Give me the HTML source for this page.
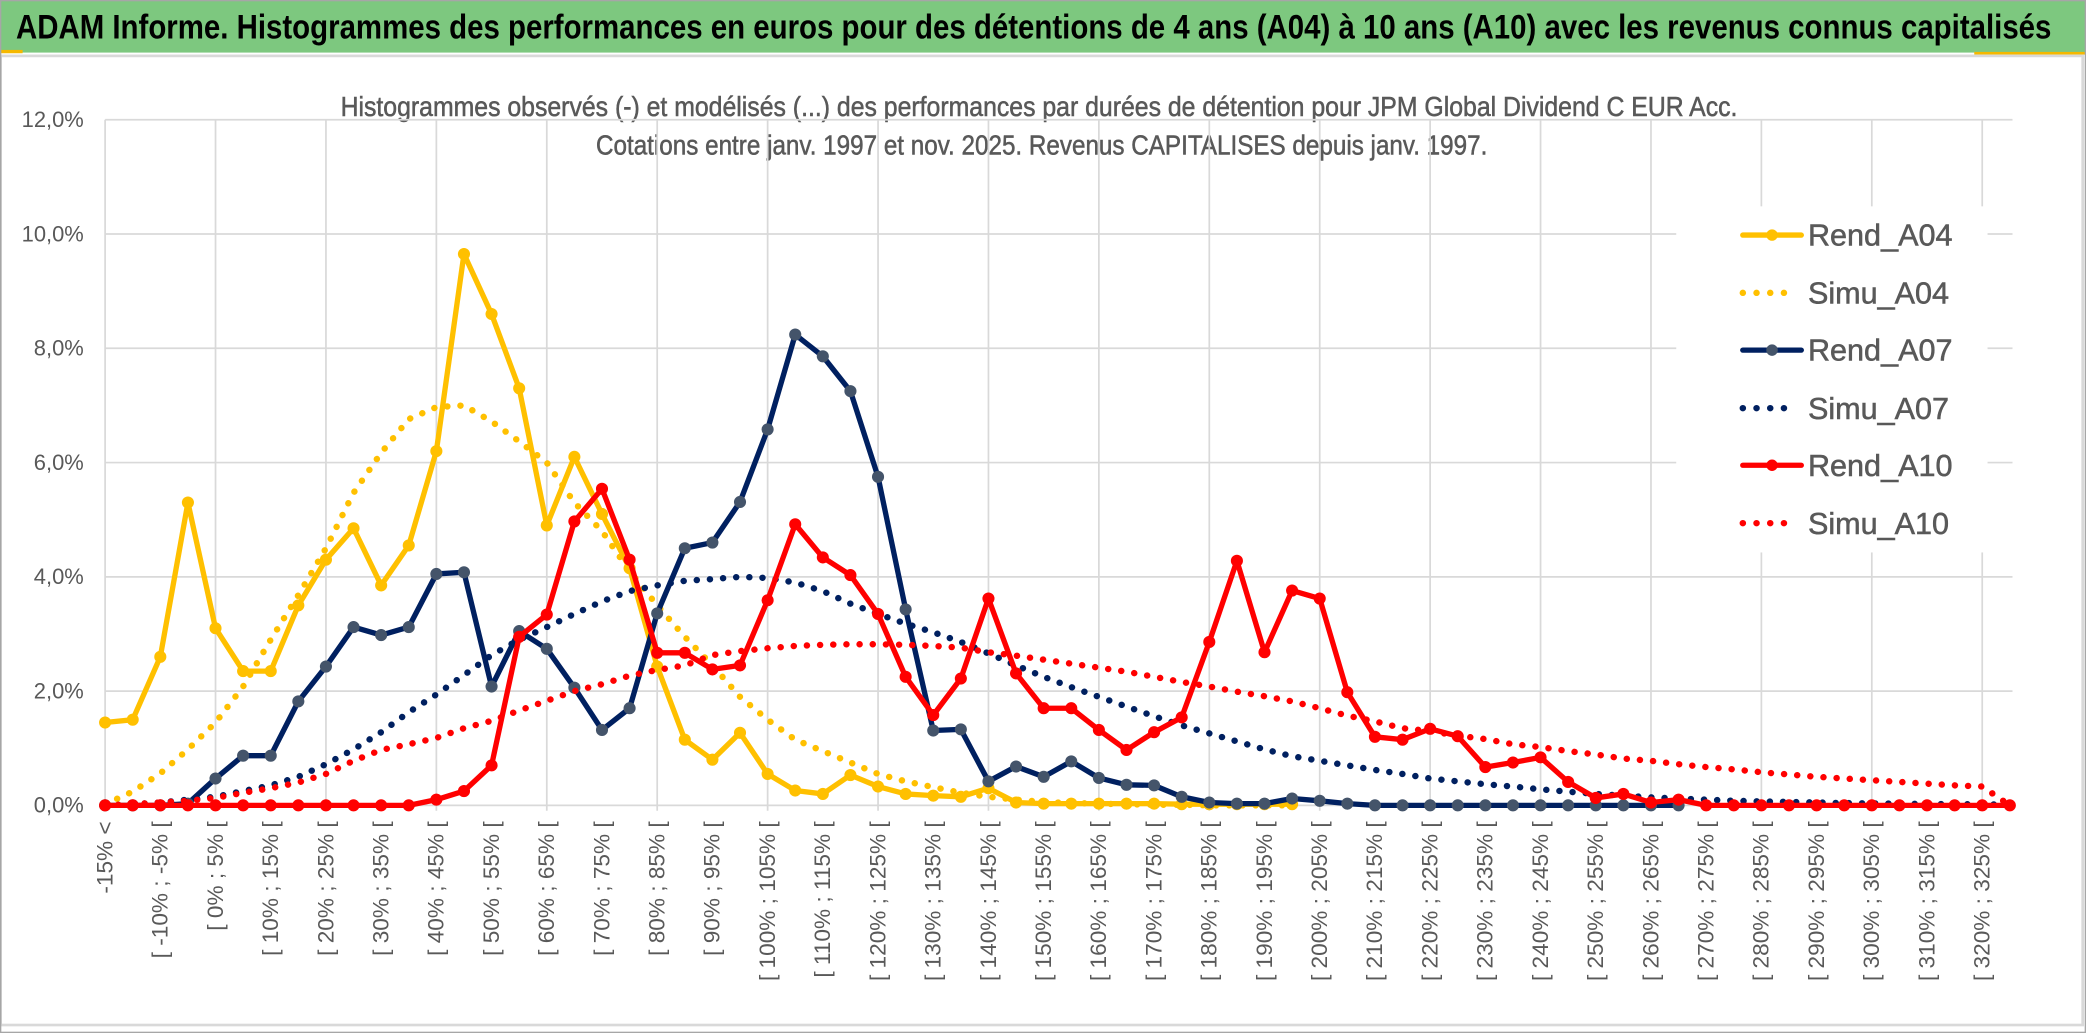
<!DOCTYPE html>
<html><head><meta charset="utf-8"><style>
html,body{margin:0;padding:0;background:#fff;}
svg{display:block;}
text{font-family:"Liberation Sans Narrow","Liberation Sans",sans-serif;}
</style></head><body>
<svg id="chart" width="2086" height="1033" viewBox="0 0 1568 776" preserveAspectRatio="none" xmlns="http://www.w3.org/2000/svg">
  <rect x="0" y="0" width="1568" height="776" fill="#fff"/>
  <rect x="0" y="0" width="1568" height="39.5" fill="#7DC87F"/>
  <rect x="0" y="37.5" width="17" height="2.5" fill="#F5B800"/>
  <rect x="1484" y="39" width="84" height="2" fill="#F5B800"/>
  <text x="12" y="29" font-size="26" font-weight="bold" fill="#000" textLength="1530" lengthAdjust="spacingAndGlyphs">ADAM Informe. Histogrammes des performances en euros pour des détentions de 4 ans (A04) à 10 ans (A10) avec les revenus connus capitalisés</text>
  <rect x="0.5" y="42" width="1565" height="728" fill="none" stroke="#D9D9D9" stroke-width="2"/>
  <rect x="0.5" y="0.5" width="1567" height="775" fill="none" stroke="#A6A6A6" stroke-width="1"/>
  <text x="781" y="87" text-anchor="middle" font-size="21" fill="#595959" stroke="#595959" stroke-width="0.4" textLength="1050" lengthAdjust="spacingAndGlyphs">Histogrammes observés (-) et modélisés (...) des performances par durées de détention pour JPM Global Dividend C EUR Acc.</text>
  <text x="783" y="116" text-anchor="middle" font-size="21" fill="#595959" stroke="#595959" stroke-width="0.4" textLength="670" lengthAdjust="spacingAndGlyphs">Cotations entre janv. 1997 et nov. 2025. Revenus CAPITALISES depuis janv. 1997.</text>
  <g id="grid"></g>
  <g id="yaxis"></g>
  <g id="xaxis"></g>
  <g id="series"></g>
  <g id="legend"></g>
</svg>
<script>
const rendA04 = [1.45,1.5,2.6,5.3,3.1,2.35,2.35,3.5,4.3,4.85,3.85,4.55,6.2,9.65,8.6,7.3,4.9,6.1,5.1,4.15,2.43,1.15,0.8,1.27,0.55,0.26,0.2,0.53,0.33,0.2,0.17,0.15,0.3,0.05,0.03,0.03,0.03,0.03,0.03,0.02,0.02,0.02,0.02,0.02];
const simuA04 = [0.02,0.24,0.56,0.98,1.45,2.08,2.9,3.68,4.5,5.47,6.17,6.76,6.97,7.0,6.72,6.37,6.0,5.3,4.8,4.1,3.5,2.95,2.45,1.9,1.5,1.15,0.95,0.75,0.55,0.42,0.32,0.22,0.15,0.1,0.06,0.04,0.03,0.02,0.01,0.01,0,0,0,0];
const rendA07 = [0,0,0,0.03,0.47,0.87,0.87,1.82,2.43,3.12,2.98,3.12,4.05,4.08,2.08,3.05,2.74,2.06,1.32,1.7,3.36,4.5,4.6,5.31,6.58,8.24,7.86,7.25,5.75,3.43,1.31,1.33,0.42,0.68,0.5,0.77,0.48,0.36,0.35,0.15,0.05,0.03,0.03,0.12,0.08,0.03,0,0,0,0,0,0,0,0,0,0,0,0];
const simuA07 = [0,0.02,0.05,0.1,0.15,0.25,0.35,0.5,0.72,0.98,1.28,1.63,1.94,2.28,2.63,2.9,3.12,3.35,3.57,3.75,3.85,3.93,3.96,4.0,3.98,3.9,3.75,3.53,3.35,3.18,3.03,2.86,2.66,2.45,2.25,2.07,1.9,1.73,1.56,1.4,1.26,1.12,0.98,0.86,0.78,0.7,0.62,0.55,0.47,0.42,0.37,0.33,0.28,0.24,0.2,0.17,0.14,0.12,0.1,0.08,0.07,0.06,0.05,0.04,0.035,0.03,0.025,0.02,0.02,0.01];
const rendA10 = [0,0,0,0,0,0,0,0,0,0,0,0,0.1,0.25,0.7,2.95,3.34,4.97,5.54,4.3,2.67,2.67,2.38,2.45,3.59,4.92,4.34,4.03,3.35,2.25,1.58,2.22,3.62,2.31,1.7,1.7,1.32,0.97,1.28,1.54,2.86,4.28,2.68,3.76,3.62,1.98,1.2,1.15,1.34,1.21,0.67,0.75,0.84,0.41,0.13,0.2,0.05,0.1,0,0,0,0,0,0,0,0,0,0,0,0];
const simuA10 = [0,0.02,0.05,0.08,0.13,0.22,0.3,0.4,0.55,0.78,0.97,1.07,1.18,1.35,1.48,1.66,1.83,2.0,2.12,2.27,2.37,2.45,2.63,2.7,2.75,2.79,2.81,2.82,2.82,2.81,2.79,2.76,2.68,2.62,2.55,2.48,2.41,2.34,2.25,2.16,2.08,1.99,1.91,1.82,1.7,1.57,1.47,1.35,1.3,1.22,1.16,1.07,1.02,0.95,0.89,0.82,0.78,0.72,0.67,0.63,0.58,0.54,0.5,0.47,0.44,0.41,0.38,0.35,0.33,0];
const yTicks = [0,2,4,6,8,10,12];
const yTickLabels = ["0,0%","2,0%","4,0%","6,0%","8,0%","10,0%","12,0%"];
const categories = ["-15% <"];
for (let k = 1; k < 70; k++) { categories.push("[ " + (-20 + 5*k) + "% ; " + (-15 + 5*k) + "% ["); }

const NS = "http://www.w3.org/2000/svg";
const X0 = 79, STEP = 20.75, Y0 = 605, YPX = 42.92;
function xPos(i){ return X0 + i*STEP; }
function yPos(v){ return Y0 - v*YPX; }
function mk(tag, attrs, parent){ const e = document.createElementNS(NS, tag); for (const k in attrs) e.setAttribute(k, attrs[k]); parent.appendChild(e); return e; }

const grid = document.getElementById('grid');
const xRight = xPos(categories.length - 1) + 2;
yTicks.forEach(function(t){
  const l = mk('line', {x1: X0, x2: xRight, y1: yPos(t), y2: yPos(t), stroke: '#D9D9D9', 'stroke-width': 1.3}, grid);
  
  
});
for (let i = 0; i < categories.length; i += 4) {
  const l = mk('line', {x1: xPos(i), x2: xPos(i), y1: yPos(12), y2: Y0 + 4, stroke: '#D9D9D9', 'stroke-width': 1.3}, grid);
  
  
}
const yaxis = document.getElementById('yaxis');
yTicks.forEach(function(t, k){
  const tx = mk('text', {x: 63, y: yPos(t) + 5.5, 'text-anchor': 'end', 'font-size': 16.5, fill: '#595959'}, yaxis);
  tx.textContent = yTickLabels[k];
  
  
});
const xaxis = document.getElementById('xaxis');
categories.forEach(function(c, i){
  if (i % 2) return;
  const x = xPos(i) + 5.5;
  const tx = mk('text', {x: 0, y: 0, transform: 'translate(' + x + ',617) rotate(-90)', 'text-anchor': 'end', 'font-size': 17, fill: '#595959', 'font-family': '"Liberation Sans",sans-serif'}, xaxis);
  tx.textContent = c;
  
  
});

const series = document.getElementById('series');
function ptsStr(arr){ const p = []; arr.forEach(function(v, i){ if (v !== null && v !== undefined) p.push(xPos(i).toFixed(2) + ',' + yPos(v).toFixed(2)); }); return p.join(' '); }
function drawRend(arr, color, mcolor, name){
  const g = mk('g', {}, series);
  
  
  mk('polyline', {points: ptsStr(arr), fill: 'none', stroke: color, 'stroke-width': 4, 'stroke-linejoin': 'round', 'stroke-linecap': 'round'}, g);
  arr.forEach(function(v, i){
    const c = mk('circle', {cx: xPos(i), cy: yPos(v), r: 4.3, fill: mcolor, stroke: mcolor, 'stroke-width': 0.5}, g);
    
    
  });
}
function drawSimu(arr, color, name){
  const p = mk('polyline', {points: ptsStr(arr), fill: 'none', stroke: color, 'stroke-width': 4.8, 'stroke-dasharray': '0.1 9.8', 'stroke-linecap': 'round', 'stroke-linejoin': 'round'}, series);
  
  
}
drawRend(rendA04, '#FFC000', '#FFC000', 'rend-a04-line');
drawSimu(simuA04, '#FFC000', 'simu-a04-line');
drawRend(rendA07, '#002060', '#44546A', 'rend-a07-line');
drawSimu(simuA07, '#002060', 'simu-a07-line');
drawRend(rendA10, '#FF0000', '#FF0000', 'rend-a10-line');
drawSimu(simuA10, '#FF0000', 'simu-a10-line');

const legend = document.getElementById('legend');
mk('rect', {x: 1260, y: 155, width: 234, height: 260, fill: '#fff'}, legend);
const legendItems = [
  ['Rend_A04', '#FFC000', '#FFC000', false, 176.6],
  ['Simu_A04', '#FFC000', null, true, 220],
  ['Rend_A07', '#002060', '#44546A', false, 263],
  ['Simu_A07', '#002060', null, true, 306.6],
  ['Rend_A10', '#FF0000', '#FF0000', false, 349.5],
  ['Simu_A10', '#FF0000', null, true, 393]
];
legendItems.forEach(function(it){
  const g = mk('g', {}, legend);
  
  
  const y = it[4];
  if (it[3]) {
    mk('line', {x1: 1310, x2: 1351, y1: y, y2: y, stroke: it[1], 'stroke-width': 4.8, 'stroke-dasharray': '0.1 10.2', 'stroke-linecap': 'round'}, g);
  } else {
    mk('line', {x1: 1310, x2: 1354, y1: y, y2: y, stroke: it[1], 'stroke-width': 4, 'stroke-linecap': 'round'}, g);
    mk('circle', {cx: 1332, cy: y, r: 4.3, fill: it[2]}, g);
  }
  const tx = mk('text', {x: 1359, y: y + 8, 'font-size': 23, fill: '#595959', stroke: '#595959', 'stroke-width': 0.4}, g);
  tx.textContent = it[0];
});
</script>
</body></html>
